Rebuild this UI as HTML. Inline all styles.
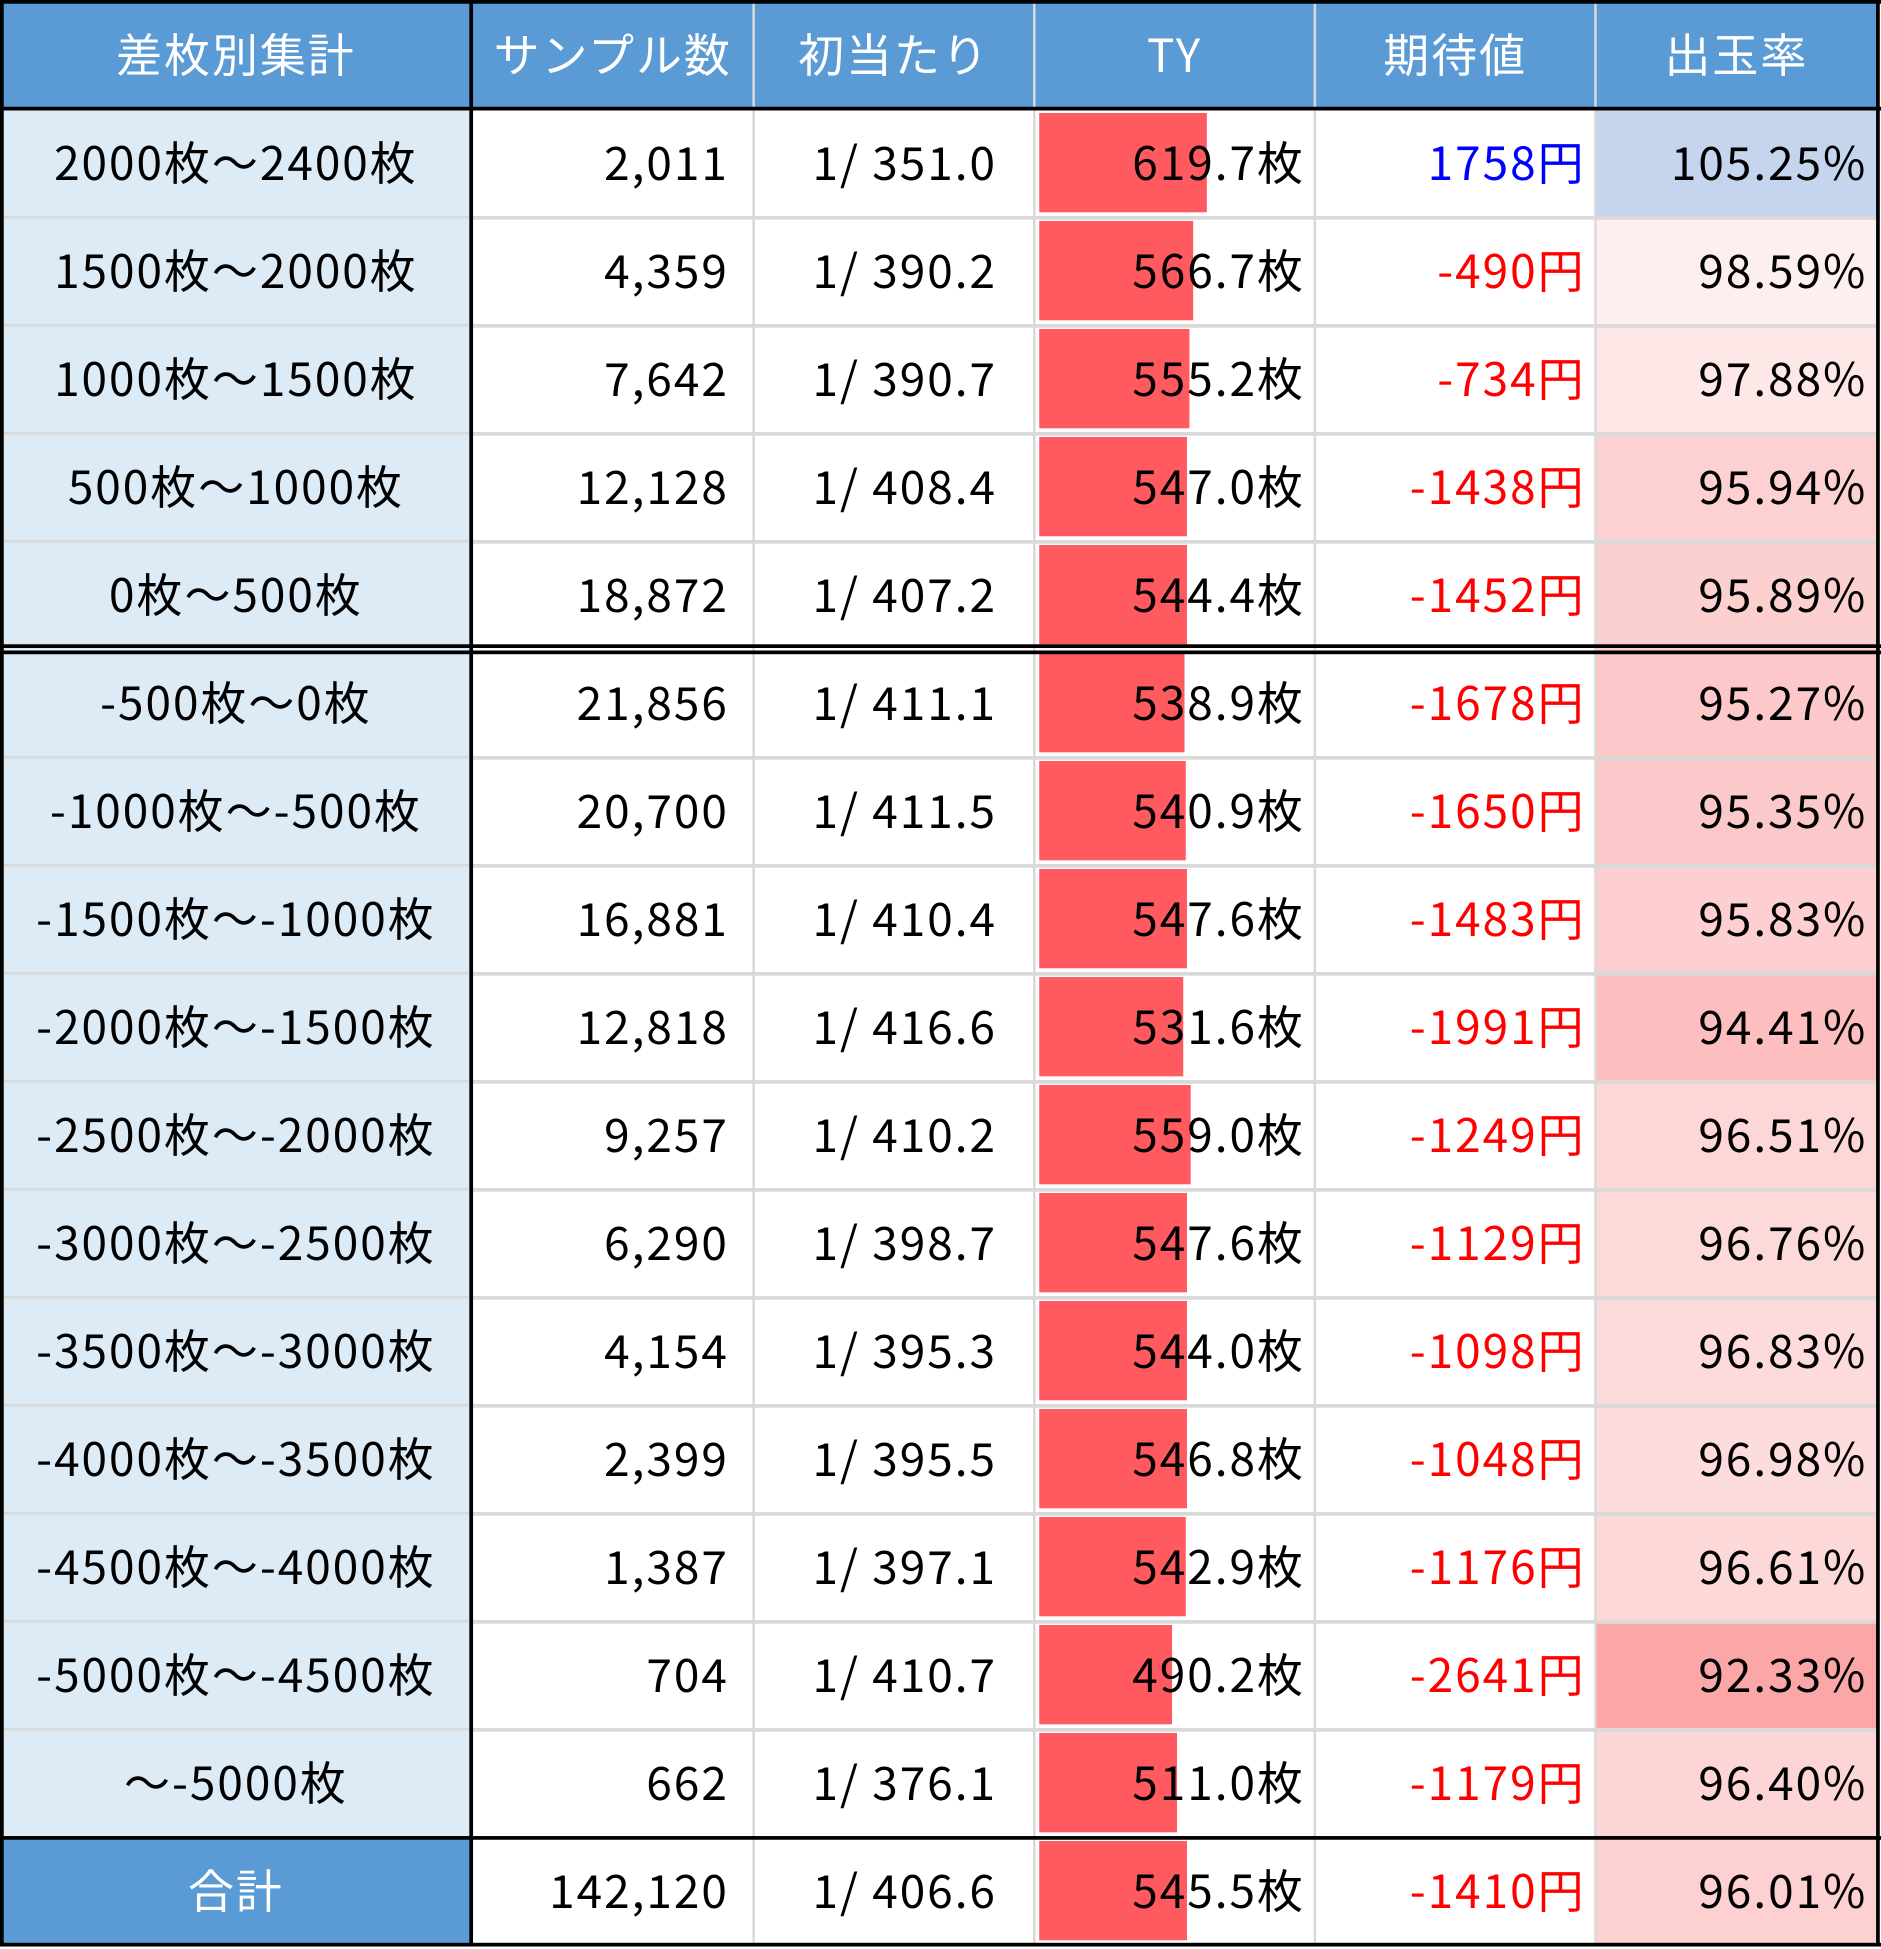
<!DOCTYPE html>
<html><head><meta charset="utf-8">
<style>
html,body{margin:0;padding:0;background:#fff;width:1881px;height:1949px;overflow:hidden}
#wrap{position:absolute;left:0;top:0;width:1515px;height:1570px;transform:scale(1.2416,1.2414);transform-origin:0 0;font-family:"Noto Sans CJK JP","Liberation Sans",sans-serif}
.c{position:absolute;box-sizing:border-box;font-size:37px;line-height:82px;letter-spacing:1.6px;white-space:nowrap;color:#000}
.h{color:#fff;text-align:center;background:#5b9bd5}
.ln{position:absolute;background:#d9d9d9}
.bk{position:absolute;background:#000}
.bar{position:absolute;background:#ff5a5f}
</style></head><body>
<div id="wrap"></div>
<script>
const labels=["2000枚～2400枚","1500枚～2000枚","1000枚～1500枚","500枚～1000枚","0枚～500枚","-500枚～0枚","-1000枚～-500枚","-1500枚～-1000枚","-2000枚～-1500枚","-2500枚～-2000枚","-3000枚～-2500枚","-3500枚～-3000枚","-4000枚～-3500枚","-4500枚～-4000枚","-5000枚～-4500枚","～-5000枚","合計"];
const samples=["2,011","4,359","7,642","12,128","18,872","21,856","20,700","16,881","12,818","9,257","6,290","4,154","2,399","1,387","704","662","142,120"];
const firstHit=["1/ 351.0","1/ 390.2","1/ 390.7","1/ 408.4","1/ 407.2","1/ 411.1","1/ 411.5","1/ 410.4","1/ 416.6","1/ 410.2","1/ 398.7","1/ 395.3","1/ 395.5","1/ 397.1","1/ 410.7","1/ 376.1","1/ 406.6"];
const ty=[619.7,566.7,555.2,547.0,544.4,538.9,540.9,547.6,531.6,559.0,547.6,544.0,546.8,542.9,490.2,511.0,545.5];
const expected=[1758,-490,-734,-1438,-1452,-1678,-1650,-1483,-1991,-1249,-1129,-1098,-1048,-1176,-2641,-1179,-1410];
const payout=[105.25,98.59,97.88,95.94,95.89,95.27,95.35,95.83,94.41,96.51,96.76,96.83,96.98,96.61,92.33,96.40,96.01];
const headers=["差枚別集計","サンプル数","初当たり","TY","期待値","出玉率"];
const headerNames=["header-range","header-samples","header-first-hit","header-ty","header-expected-value","header-payout"];

const W=document.getElementById('wrap');
const colX=[0,380,607,833,1059,1285,1512];
const HH=88,RH=87;
function rowTop(i){return HH+RH*i;}
function tyScale(v){return v*0.218;}
function payColor(v){
  if(v>=100) return '#c5d5ed';
  const t=Math.min(1,(100-v)/13);
  const r=Math.round(255+(248-255)*t),g=Math.round(255+(105-255)*t),b=Math.round(255+(107-255)*t);
  return `rgb(${r},${g},${b})`;
}
function cell(x,y,w,h,txt,style){
  const d=document.createElement('div');d.className='c';
  d.style.left=x+'px';d.style.top=y+'px';d.style.width=w+'px';d.style.height=h+'px';
  Object.assign(d.style,style||{});d.textContent=txt;W.appendChild(d);return d;
}
headers.forEach((t,j)=>{
  const d=cell(colX[j],0,colX[j+1]-colX[j],HH,t,{});d.classList.add('h');d.style.lineHeight='84px';
  
  
});
labels.forEach((lab,i)=>{
  const y=rowTop(i);const last=i===labels.length-1;
  const a=cell(0,y,380,RH,lab,{textAlign:'center',background:last?'#5b9bd5':'#ddebf7',color:last?'#fff':'#000'});
  
  
  const b=cell(380,y,227,RH,samples[i],{textAlign:'right',paddingRight:'20px'});
  
  
  const c=cell(607,y,226,RH,firstHit[i],{textAlign:'right',paddingRight:'30px'});
  
  
  const bar=document.createElement('div');bar.className='bar';
  bar.style.left='837px';bar.style.top=(y+3)+'px';bar.style.height=(RH-7)+'px';bar.style.width=tyScale(ty[i])+'px';
  
  
  W.appendChild(bar);
  const d=cell(833,y,226,RH,ty[i].toFixed(1)+'枚',{textAlign:'right',paddingRight:'8px'});
  
  
  const e=cell(1059,y,226,RH,expected[i]+'円',{textAlign:'right',paddingRight:'8px',color:expected[i]>=0?'#0000ff':'#ff0000'});
  
  
  const f=cell(1285,y,227,RH,payout[i].toFixed(2)+'%',{textAlign:'right',paddingRight:'8px',background:payColor(payout[i])});
  
  
});
function line(cls,x,y,w,h){const l=document.createElement('div');l.className=cls;l.style.left=x+'px';l.style.top=y+'px';l.style.width=w+'px';l.style.height=h+'px';W.appendChild(l);
  
  }
for(let i=1;i<labels.length-1;i++){ if(i!==5) line('ln',380,rowTop(i)-1,1132,3); }
for(let i=1;i<labels.length-1;i++){ if(i!==5) line('ln',0,rowTop(i)-1,380,2); }
[607,833,1059,1285].forEach(x=>line('ln',x-1,0,2,1567));
line('bk',0,0,1515,3);line('bk',0,1565,1515,3);
line('bk',0,0,3,1568);line('bk',1511,0,3,1568);
line('bk',378,0,3,1568);
line('bk',0,86,1515,3);
line('bk',0,rowTop(5)-4,1515,3);line('bk',0,rowTop(5)+1,1515,3);
line('bk',0,rowTop(16)-1,1515,3);
</script>
</body></html>
